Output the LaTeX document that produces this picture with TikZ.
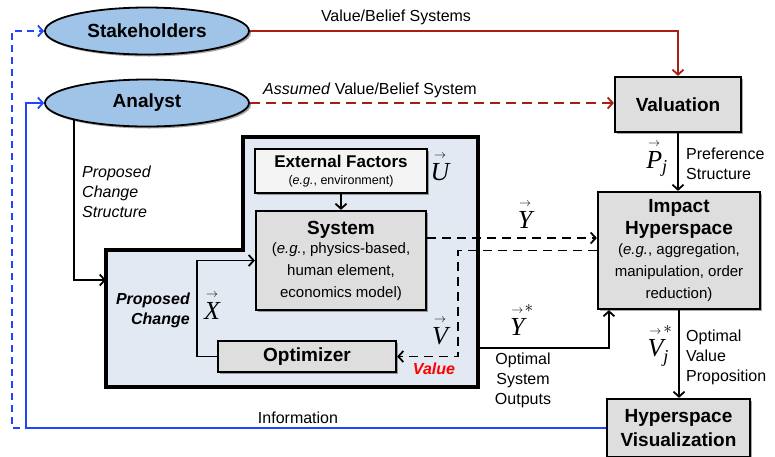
\documentclass[tikz,border=0pt]{standalone}
\usepackage{fontspec}
\usepackage{amsmath}
\setmainfont{Liberation Sans}
\newfontfamily\tms{Liberation Serif}
\usetikzlibrary{arrows.meta,shadows,shapes.geometric,calc}
\definecolor{ellfill}{RGB}{160,196,232}
\definecolor{boxgray}{RGB}{222,222,222}
\definecolor{regionblue}{RGB}{226,233,243}
\definecolor{extfill}{RGB}{244,244,244}
\definecolor{darkred}{RGB}{170,30,20}
\definecolor{linkblue}{RGB}{30,70,255}
\definecolor{valred}{RGB}{255,0,0}
\newcommand\vsym[1]{\ensuremath{\overset{\scriptscriptstyle\rightarrow}{\text{\tms\itshape #1}}}}
\newcommand\bodyfont{\fontsize{15}{18}\selectfont\mdseries}
\newcommand\labfont{\fontsize{16}{20}\selectfont}
\newcommand\headfont{\fontsize{19}{23}\selectfont\bfseries}
\tikzset{
  shad/.style={drop shadow={shadow xshift=2pt,shadow yshift=-2pt,opacity=0.35,fill=black}},
  ell/.style={ellipse, draw, line width=1.8pt, fill=ellfill, minimum width=204pt, minimum height=47pt, inner sep=0pt, font=\headfont, shad},
  procbox/.style={rectangle, draw, line width=2.2pt, fill=boxgray, inner sep=0pt, align=center, font=\headfont, shad},
  tip/.style={-{Straight Barb[length=5pt,width=11pt,line width=1.8pt]}},
  conn/.style={line width=1.9pt, tip},
  lab/.style={font=\labfont, inner sep=0pt},
  vlab/.style={font=\fontsize{26}{26}\selectfont, inner sep=0pt},
}
\begin{document}
\begin{tikzpicture}[x=1pt,y=-1pt]
\useasboundingbox (0,0) rectangle (775,456);
% proposed change region
\draw[line width=3.2pt, fill=regionblue, line join=miter] (106,250) -- (243,250) -- (243,137) -- (478,137) -- (478,387) -- (106,387) -- cycle;
\coordinate (pc) at (106,280);
\coordinate (yo) at (478,348);
% nodes
\node[ell] (sh) at (147,31) {Stakeholders};
\node[ell] (an) at (147,103) {Analyst};
\node[procbox, minimum width=126pt, minimum height=55pt] (val) at (678,104.5) {Valuation};
\node[procbox, minimum width=162pt, minimum height=117pt] (imp) at (679,250.5) {Impact\\[-1pt] Hyperspace\\[-3pt] \bodyfont(\textit{e.g.}, aggregation,\\[-1pt] \bodyfont manipulation, order\\[-1pt] \bodyfont reduction)};
\node[procbox, minimum width=143pt, minimum height=58pt, font=\fontsize{19}{24}\selectfont\bfseries] (hv) at (678.5,428) {Hyperspace\\ Visualization};
\node[procbox, fill=extfill, minimum width=172pt, minimum height=44pt, font=\fontsize{17}{20}\selectfont\bfseries] (ext) at (341,171) {External Factors\\[-3pt] \fontsize{12.5}{15}\selectfont\mdseries(\textit{e.g.}, environment)};
\node[procbox, minimum width=170pt, minimum height=99pt] (sys) at (341,260.5) {System\\[-4pt] \bodyfont(\textit{e.g.}, physics-based,\\[-1pt] \bodyfont human element,\\[-1pt] \bodyfont economics model)};
\node[procbox, minimum width=178pt, minimum height=31pt] (opt) at (307,356.5) {Optimizer};
% connectors
\draw[conn, darkred] (sh.east) -| (val.north);
\draw[conn, darkred, dash pattern=on 10pt off 6pt] (an.east) -- (an.east -| val.west);
\draw[conn] (val.south) -- (val.south |- imp.north);
\draw[conn] (imp.south) -- (imp.south |- hv.north);
\coordinate (b1) at (26,428);
\coordinate (b2) at (20,428);
\draw[conn, linkblue] (hv.west) -- (b1) |- (an.west);
\draw[conn, linkblue, line width=1.3pt, dash pattern=on 7pt off 5pt] (b2) -- (12,428) |- (sh.west);
\draw[conn] (an.south west) |- (pc);
\draw[conn] (ext.south) -- (sys.north);
\draw[conn] (opt.west) -- ++(-20,0) |- (sys.west);
\draw[conn, dash pattern=on 9pt off 6pt] ([yshift=22.5pt]sys.east) -- ([yshift=22.5pt]sys.east -| imp.west);
\draw[conn, dash pattern=on 9pt off 6pt] (imp.west) -- (458,250.5) |- (opt.east);
\draw[conn] (yo) -| ([xshift=12pt]imp.south west);
% labels
\node[lab] (l1) at (396,17) {Value/Belief Systems};
\node[lab] (l2) at (370,90) {\textit{Assumed} Value/Belief System};
\node[vlab] (pj) at (657,158) {$\vsym{P}_{\text{\tms\itshape j}}$};
\node[lab, align=left, anchor=west] (l3) at (686,164) {Preference\\ Structure};
\node[vlab] (u) at (440,166) {\vsym{U}};
\node[lab, align=left, anchor=west, font=\labfont\itshape] (l4) at (82,192) {Proposed\\ Change\\ Structure};
\node[lab, align=right, anchor=east, font=\labfont\bfseries\itshape] (l5) at (190,310) {Proposed\\ Change};
\node[vlab] (x) at (212,305) {\vsym{X}};
\node[vlab] (v) at (440,330) {\vsym{V}};
\node[lab, font=\labfont\bfseries\itshape, text=valred] (l6) at (434,369) {Value};
\node[vlab] (y) at (525,214) {\vsym{Y}};
\node[vlab] (ys) at (522,320) {$\vsym{Y}^{*}$};
\node[lab, align=center] (l7) at (523,380) {Optimal\\ System\\ Outputs};
\node[vlab] (vj) at (660,346) {$\vsym{V}^{*}_{\text{\tms\itshape j}}$};
\node[lab, align=left, anchor=west] (l8) at (686,357) {Optimal\\ Value\\ Proposition};
\node[lab] (l9) at (298,418) {Information};
\end{tikzpicture}
\end{document}
